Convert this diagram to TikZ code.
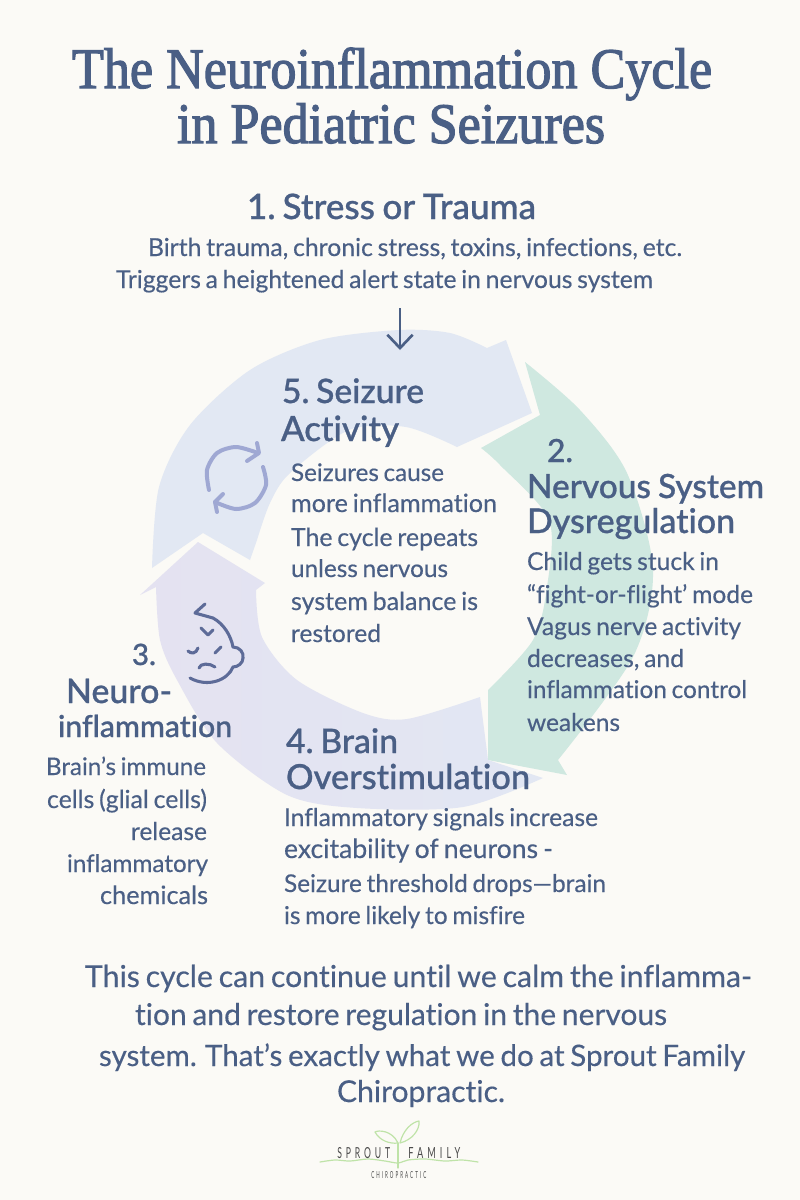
\documentclass[tikz,border=0pt]{standalone}
\usepackage{fontspec}
\usepackage{graphicx}
\usetikzlibrary{arrows.meta}
\setmainfont{Lato}
\newfontfamily\titlefont{Liberation Serif}[FakeBold=2.2]
\newfontfamily\headfont{Lato Medium}[FakeBold=0.8,WordSpace=0.85,RawFeature={-liga;-dlig;-clig}]
\newfontfamily\bodyfont{Lato}[FakeBold=0.35,WordSpace=0.75,RawFeature={-liga;-dlig;-clig}]
\newfontfamily\logofont{Lato}[LetterSpace=45]
\definecolor{bgc}{HTML}{FBFAF6}
\definecolor{inkc}{HTML}{4A5F85}
\definecolor{bluec}{HTML}{E2E8F3}
\definecolor{lavc}{HTML}{E4E2F1}
\definecolor{lav2c}{HTML}{E2E7F3}
\definecolor{greenc}{HTML}{CFE8E0}
\definecolor{cyclec}{HTML}{9FA8D3}
\definecolor{facec}{HTML}{5D6B98}
\definecolor{sproutc}{HTML}{BFE3A8}
\definecolor{logoc}{HTML}{4A4A4A}
\newdimen\pxu \pxu=0.75pt
\newcommand{\tline}[6]{\node[txt] (#1) at (#2,#3) {\resizebox{#4\pxu}{!}{#5{}#6}};}
\newcommand{\ttitle}[5]{\node[txt] (#1) at (#2,#3) {\resizebox{#4\pxu}{!}{\scalebox{1}[1.1]{\titlefont #5}}};}
\begin{document}
\begin{tikzpicture}[x=0.75pt,y=-0.75pt,
  txt/.style={anchor=base west,inner sep=0pt,outer sep=0pt,text=inkc},
  iconcycle/.style={draw=cyclec,line width=3pt,line cap=round,line join=round},
  iconface/.style={draw=facec,line width=2.3pt,line cap=round,line join=round},
  sprout/.style={draw=sproutc,line width=0.9pt,line cap=round,line join=round},
  logotext/.style={anchor=base west,inner sep=0pt,text=logoc}]
\useasboundingbox (0,0) rectangle (800,1200);
\fill[bgc] (0,0) rectangle (800,1200);
% ring
\fill[greenc] plot[smooth] coordinates {(525,362)(580,410)(627,473)(653,570)(633,657)(558,760)}
  -- (567,775) -- (488,760) -- (488,690)
  -- plot[smooth] coordinates {(488,690)(533,640)(547,587)(549,520)(500,465)(481,448)}
  -- (540,415) -- cycle;
\fill[bluec] plot[smooth] coordinates {(152,568)(159,487)(190,425)(250,370)(320,340)(399,330)(450,333)(487,348)}
  -- (506,340) -- (532,413) -- (457,447)
  -- plot[smooth] coordinates {(457,447)(406,427)(349,430)(290,473)(270,503)(257,540)}
  -- (250,560) -- (203,533) -- cycle;
\shade[left color=lavc,right color=lav2c] (198,542) -- (265,583) -- (256,590)
  -- plot[smooth] coordinates {(256,590)(262,637)(297,680)(363,713)(407,719)(480,697)}
  -- (488,760) -- (543,778)
  -- plot[smooth] coordinates {(543,778)(463,807)(357,808)(287,795)(217,743)(177,680)(160,640)(156,587)}
  -- (140,595) -- cycle;
% icons
\draw[iconcycle] plot[smooth] coordinates {(209,490)(207,470)(217,453)(236,447)(258,453)};
\draw[iconcycle] (257,443) -- (259,453) -- (247,461);
\draw[iconcycle] plot[smooth] coordinates {(263,467)(266,485)(255,503)(236,509)(215,502)};
\draw[iconcycle] (223,494) -- (215,502) -- (217,512);
\draw[iconface] (205,604) -- (195,613) -- (213,618) .. controls (224,624) and (231,636) .. (233,647)
  .. controls (240,647) and (244,653) .. (243,658) .. controls (243,663) and (238,667) .. (233,667)
  .. controls (228,680) and (208,688) .. (190,678);
\draw[iconface] (201,628) -- (208,635) -- (213,630);
\draw[iconface] (188,651) .. controls (191,654) and (196,654) .. (198,648);
\draw[iconface] (215,653) -- (221,647);
\draw[iconface] (199,668) .. controls (200,663) and (210,663) .. (215,667);
% title
\ttitle{t1}{72}{88}{640}{The Neuroinflammation Cycle}
\ttitle{t2}{177}{143}{428}{in Pediatric Seizures}
% step 1
\tline{h1}{247}{219}{289}{\headfont}{1.\kern-0.1em{} Stress or Trauma}
\tline{b1a}{148}{256}{534}{\bodyfont}{Birth trauma, chronic stress, toxins, infections, etc.}
\tline{b1b}{116}{288}{537}{\bodyfont}{Triggers a heightened alert state in nervous system}
\coordinate (arrowtop) at (400,308);
\coordinate (arrowend) at (400,350);
\draw[inkc,line width=2pt,-{Straight Barb[length=10pt,width=19pt]}] (arrowtop) -- (arrowend);
% step 5
\tline{h5a}{282}{403}{142}{\headfont}{5.\kern-0.1em{} Seizure}
\tline{h5b}{281}{441}{118}{\headfont}{Activity}
\tline{b5a}{291}{481}{153}{\bodyfont}{Seizures cause}
\tline{b5b}{291}{512}{206}{\bodyfont}{more inflammation}
\tline{b5c}{291}{546}{187}{\bodyfont}{The cycle repeats}
\tline{b5d}{291}{577}{157}{\bodyfont}{unless nervous}
\tline{b5e}{291}{610}{187}{\bodyfont}{system balance is}
\tline{b5f}{291}{642}{90}{\bodyfont}{restored}
% step 2
\tline{h2a}{547}{462}{26}{\headfont}{2.}
\tline{h2b}{527}{498}{237}{\headfont}{Nervous System}
\tline{h2c}{527}{533}{208}{\headfont}{Dysregulation}
\tline{b2a}{527}{570}{192}{\bodyfont}{Child gets stuck in}
\tline{b2b}{527}{603}{226}{\bodyfont}{“fight-or-flight’ mode}
\tline{b2c}{527}{635}{214}{\bodyfont}{Vagus nerve activity}
\tline{b2d}{527}{667}{157}{\bodyfont}{decreases, and}
\tline{b2e}{527}{698}{220}{\bodyfont}{inflammation control}
\tline{b2f}{527}{731}{93}{\bodyfont}{weakens}
% step 4
\tline{h4a}{286}{753}{112}{\headfont}{4.\kern-0.1em{} Brain}
\tline{h4b}{286}{789}{244}{\headfont}{Overstimulation}
\tline{b4a}{284}{826}{314}{\bodyfont}{Inflammatory signals increase}
\tline{b4b}{284}{858}{269}{\bodyfont}{excitability of neurons -}
\tline{b4c}{284}{892}{322}{\bodyfont}{Seizure threshold drops—brain}
\tline{b4d}{284}{924}{241}{\bodyfont}{is more likely to misfire}
% step 3
\tline{h3a}{132}{665}{24}{\headfont}{3.}
\tline{h3b}{66}{703}{106}{\headfont}{Neuro-}
\tline{h3c}{58}{737}{174}{\headfont}{inflammation}
\tline{b3a}{46}{775}{160}{\bodyfont}{Brain’s immune}
\tline{b3b}{47}{808}{160}{\bodyfont}{cells (glial cells)}
\tline{b3c}{131}{840}{76}{\bodyfont}{release}
\tline{b3d}{67}{872}{141}{\bodyfont}{inflammatory}
\tline{b3e}{100}{904}{108}{\bodyfont}{chemicals}
% footer
\tline{f1}{85}{987}{667}{\bodyfont}{This cycle can continue until we calm the inflamma-}
\tline{f2}{135}{1025}{532}{\bodyfont}{tion and restore regulation in the nervous}
\tline{f3}{99}{1066}{646}{\bodyfont}{system. That’s exactly what we do at Sprout Family}
\tline{f4}{337}{1102}{168}{\bodyfont}{Chiropractic.}
% logo
\draw[sprout] plot[smooth] coordinates {(320,1162)(335,1160)(350,1161)(368,1159)(385,1161)(398,1163)(408,1160)(425,1159)(445,1161)(462,1160)(478,1162)};
\draw[sprout] (398,1168) -- (398,1143);
\draw[sprout] (398,1143) .. controls (392,1130) and (378,1130) .. (375,1132) .. controls (380,1141) and (390,1144) .. (398,1143);
\draw[sprout] (400,1143) .. controls (403,1130) and (412,1122) .. (419,1121) .. controls (420,1130) and (412,1140) .. (400,1143);
\node[logotext] (logo1) at (337,1158) {\resizebox{53\pxu}{11\pxu}{\logofont SPROUT}};
\node[logotext] (logo2) at (408,1158) {\resizebox{52\pxu}{11\pxu}{\logofont FAMILY}};
\node[logotext] (logo3) at (371,1178) {\resizebox{55\pxu}{7\pxu}{\logofont CHIROPRACTIC}};
\end{tikzpicture}
\end{document}
